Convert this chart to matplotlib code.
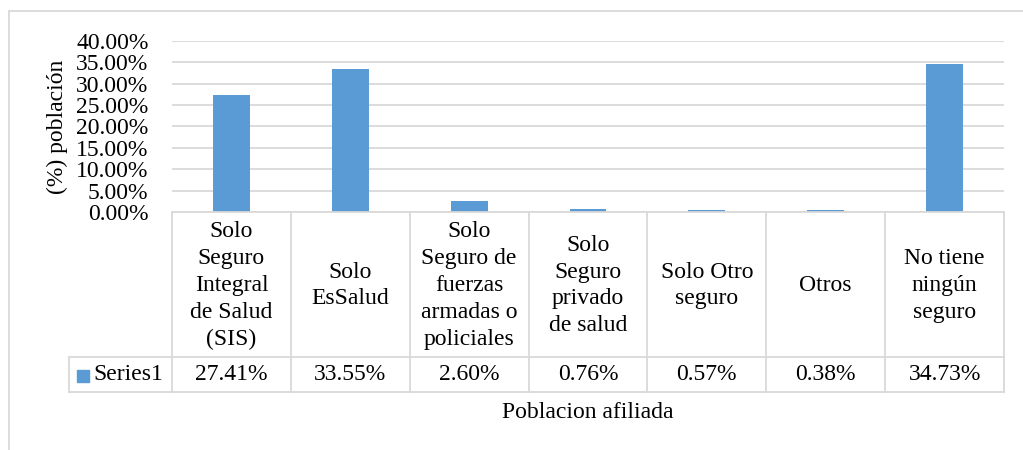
import matplotlib
matplotlib.use("Agg")
import matplotlib.pyplot as plt
import matplotlib.transforms as mtransforms
from matplotlib.lines import Line2D
from matplotlib.patches import Rectangle
import numpy as np

plt.rcParams['font.family'] = ['Liberation Serif', 'DejaVu Serif']

categories = [
    "Solo\nSeguro\nIntegral\nde Salud\n(SIS)",
    "Solo\nEsSalud",
    "Solo\nSeguro de\nfuerzas\narmadas o\npoliciales",
    "Solo\nSeguro\nprivado\nde salud",
    "Solo Otro\nseguro",
    "Otros",
    "No tiene\nningún\nseguro",
]
values = [27.41, 33.55, 2.60, 0.76, 0.57, 0.38, 34.73]
series_name = "Series1"
y_ticks = [0, 5, 10, 15, 20, 25, 30, 35, 40]
y_label = "(%) población"
x_label = "Poblacion afiliada"

BAR = "#5B9BD5"
GRID = "#D9D9D9"
FS = 17

W, H = 1023, 450
fig = plt.figure(figsize=(W / 100, H / 100), dpi=100)

def fy(py):
    return 1 - py / H

def fx(px):
    return px / W

# Outer chart frame
fig.add_artist(Line2D([fx(9), fx(9)], [fy(11), 0], transform=fig.transFigure, color=GRID, lw=1.3))
fig.add_artist(Line2D([fx(9), 1], [fy(11), fy(11)], transform=fig.transFigure, color=GRID, lw=1.3))

left, right, top, bottom = 172, 1004, 41, 212
ax = fig.add_axes([fx(left), fy(bottom), fx(right) - fx(left), fy(top) - fy(bottom)])
x = np.arange(len(values))
ax.bar(x, values, width=0.31, color=BAR, zorder=3)
ax.set_xlim(-0.5, len(values) - 0.5)
ax.set_ylim(0, 40)
ax.set_yticks(y_ticks)
ax.set_yticklabels([f"{t:.2f}%" for t in y_ticks], fontsize=FS)
ax.tick_params(axis='y', length=0, pad=17)
ax.tick_params(axis='x', length=0, labelbottom=False)
for s in ax.spines.values():
    s.set_visible(False)
ax.yaxis.grid(True, color=GRID, lw=1.3, zorder=0)
ax.set_axisbelow(True)
ax.set_ylabel(y_label, fontsize=FS)
ax.yaxis.label.set_va('center')
ax.yaxis.set_label_coords((57 - left) / (right - left), 0.5)

# Data table
trans = mtransforms.blended_transform_factory(ax.transData, fig.transFigure)
row1_bot, row2_bot = 357, 392
bounds = np.arange(len(values) + 1) - 0.5
for b in bounds:
    fig.add_artist(Line2D([b, b], [fy(bottom), fy(row2_bot)], transform=trans, color=GRID, lw=1.3))
fig.add_artist(Line2D([fx(left), fx(right)], [fy(bottom), fy(bottom)], transform=fig.transFigure, color=GRID, lw=1.3))
for yy in (row1_bot, row2_bot):
    fig.add_artist(Line2D([fx(69), fx(right)], [fy(yy), fy(yy)], transform=fig.transFigure, color=GRID, lw=1.3))
fig.add_artist(Line2D([fx(69), fx(69)], [fy(row1_bot), fy(row2_bot)], transform=fig.transFigure, color=GRID, lw=1.3))

for xi, cat, v in zip(x, categories, values):
    ax.text(xi, fy((bottom + row1_bot) / 2 + 1), cat, transform=trans, ha='center', va='center',
            fontsize=FS, linespacing=1.36, clip_on=False)
    ax.text(xi, fy((row1_bot + row2_bot) / 2), f"{v:.2f}%", transform=trans, ha='center',
            va='center', fontsize=FS, clip_on=False)

fig.add_artist(Rectangle((fx(77), fy(382)), fx(12), 12 / H, transform=fig.transFigure, color=BAR))
fig.text(fx(93), fy((row1_bot + row2_bot) / 2), series_name, ha='left', va='center', fontsize=FS)

fig.text(fx(588), fy(412), x_label, ha='center', va='center', fontsize=FS)

fig.savefig("out.png", dpi=100)
